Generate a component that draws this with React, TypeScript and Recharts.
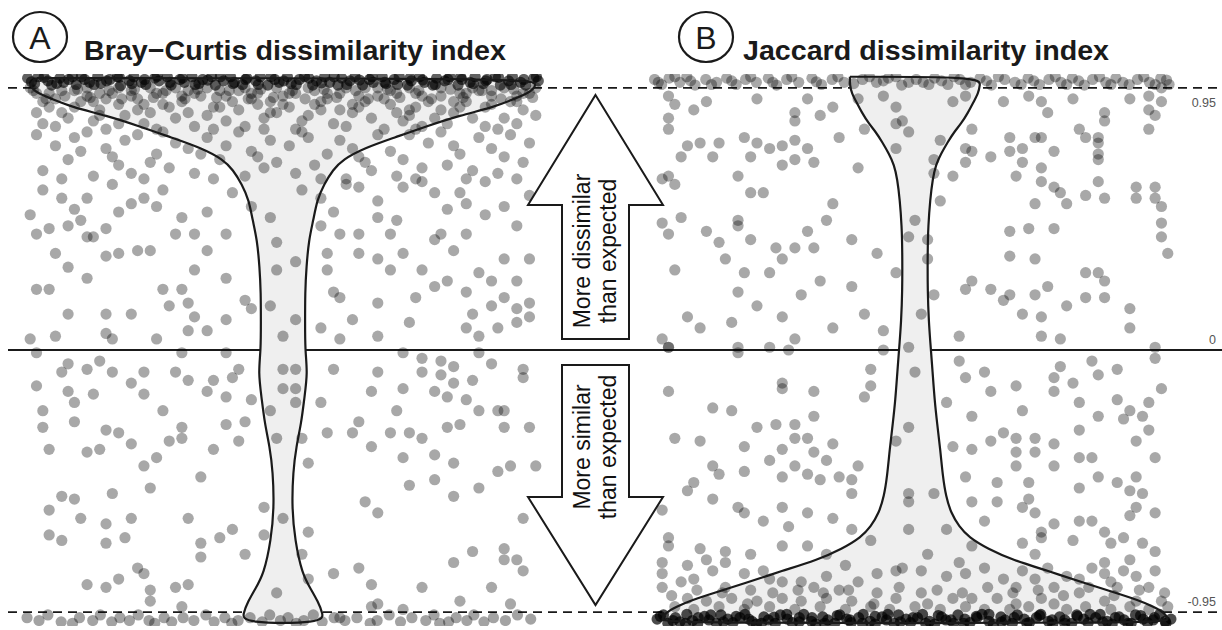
import React from 'react';
import { ComposedChart, Scatter, XAxis, YAxis, ReferenceLine } from 'recharts';

const W = 1222;
const H = 630;
const FONT = '"Liberation Sans", Arial, Helvetica, sans-serif';

// panel positions on the x axis: 1 = Bray–Curtis, 2 = Jaccard
const panels = ['Bray−Curtis dissimilarity index', 'Jaccard dissimilarity index'];
const yTicks = [0.95, 0, -0.95];

// observations as [jitter, standardized index]
const brayNearTop: [number, number][] = [
  [-.404,.985],[-.393,.965],[-.387,.99],[-.372,.975],[-.366,.96],[-.353,.985],[-.347,.97],[-.333,.99],[-.327,.962],[-.314,.98],
  [-.306,.97],[-.293,.992],[-.288,.966],[-.274,.98],[-.262,.99],[-.257,.958],[-.243,.976],[-.236,.99],[-.224,.97],[-.217,.962],
  [-.203,.985],[-.196,.975],[-.183,.99],[-.177,.96],[-.163,.98],[-.156,.97],[-.144,.99],[-.133,.965],[-.127,.98],[-.113,.99],
  [-.107,.96],[-.094,.975],[-.083,.99],[-.077,.97],[-.064,.962],[-.057,.985],[-.043,.975],[-.036,.99],[-.024,.96],[-.013,.98],
  [-.006,.97],[.007,.99],[.013,.965],[.026,.98],[.034,.99],[.047,.96],[.053,.975],[.066,.99],[.074,.97],[.087,.96],
  [.093,.985],[.106,.975],[.114,.99],[.126,.96],[.137,.98],[.143,.97],[.157,.99],[.163,.965],[.176,.98],[.184,.99],
  [.197,.96],[.203,.975],[.216,.99],[.224,.97],[.237,.96],[.243,.985],[.256,.975],[.264,.99],[.277,.96],[.283,.98],
  [.296,.97],[.304,.99],[.317,.965],[.323,.98],[.336,.99],[.344,.96],[.357,.975],[.363,.99],[.376,.97],[.384,.96],
  [.397,.985],[.404,.975],
  [-.398,.972],[-.378,.988],[-.358,.966],[-.339,.98],[-.319,.99],[-.299,.962],[-.279,.975],[-.259,.988],[-.239,.965],[-.219,.98],
  [-.199,.992],[-.179,.97],[-.159,.985],[-.139,.962],[-.119,.978],[-.099,.99],[-.079,.965],[-.059,.98],[-.039,.962],[-.019,.99],
  [.001,.975],[.021,.962],[.041,.985],[.061,.968],[.081,.99],[.101,.962],[.121,.978],[.141,.99],[.161,.97],[.181,.962],
  [.201,.985],[.221,.978],[.241,.962],[.261,.98],[.281,.99],[.301,.965],[.321,.975],[.341,.988],[.361,.962],[.381,.98],
  [.401,.99],
];

const brayPoints: [number, number][] = [
  // 0.80 - 0.95
  [-.39,.93],[-.37,.88],[-.36,.91],[-.34,.84],[-.38,.82],[-.33,.94],[-.35,.86],[-.32,.90],[-.39,.86],[-.36,.81],
  [-.31,.92],[-.29,.87],[-.27,.93],[-.30,.83],[-.26,.89],[-.25,.85],[-.28,.80],[-.24,.94],[-.30,.90],[-.26,.82],
  [-.23,.91],[-.21,.86],[-.19,.93],[-.22,.82],[-.18,.88],[-.17,.84],[-.20,.80],[-.16,.92],[-.23,.87],[-.19,.89],
  [-.15,.86],[-.13,.92],[-.11,.88],[-.14,.81],[-.10,.94],[-.09,.83],[-.12,.85],[-.08,.90],[-.15,.94],[-.11,.80],
  [-.07,.87],[-.05,.93],[-.03,.84],[-.06,.81],[-.02,.90],[-.01,.86],[-.04,.89],[-.07,.94],[-.03,.80],[.00,.92],
  [.01,.88],[.03,.83],[.05,.94],[.02,.80],[.06,.87],[.07,.91],[.04,.85],[.08,.82],[.01,.93],[.05,.89],
  [.09,.93],[.11,.86],[.13,.90],[.10,.81],[.14,.84],[.15,.92],[.12,.88],[.16,.80],[.09,.87],[.13,.95],
  [.17,.89],[.19,.83],[.21,.93],[.18,.86],[.22,.81],[.23,.90],[.20,.87],[.24,.84],[.17,.94],[.21,.80],
  [.25,.92],[.27,.86],[.29,.90],[.26,.82],[.30,.84],[.31,.94],[.28,.88],[.32,.81],[.25,.87],[.29,.93],
  [.33,.89],[.35,.84],[.37,.92],[.34,.80],[.38,.87],[.39,.93],[.36,.90],[.40,.85],[.33,.94],[.37,.82],
  [-.40,.95],[-.37,.93],[-.35,.94],[-.31,.95],[-.29,.93],[-.26,.95],[-.24,.92],[-.21,.95],[-.20,.93],[-.17,.95],
  [-.14,.93],[-.12,.95],[-.09,.92],[-.06,.95],[-.04,.93],[-.01,.95],[.02,.93],[.04,.95],[.07,.93],[.10,.95],
  [.12,.92],[.15,.95],[.18,.93],[.20,.95],[.22,.92],[.25,.95],[.28,.93],[.30,.95],[.33,.92],[.35,.95],
  [.38,.93],[.40,.95],[-.38,.90],[-.33,.88],[-.28,.91],[-.22,.89],[-.16,.90],[-.10,.88],[-.05,.91],[.00,.89],
  [.06,.90],[.11,.89],[.16,.91],[.21,.88],[.27,.90],[.32,.88],[.37,.90],[-.02,.86],[.20,.85],[-.29,.85],
  [-.395,.94],[-.375,.91],[-.345,.92],[-.325,.945],[-.305,.915],[-.275,.94],[-.255,.91],[-.235,.945],[-.205,.915],[-.185,.94],
  [-.155,.91],[-.135,.945],[-.105,.915],[-.085,.94],[-.055,.91],[-.035,.945],[-.015,.915],[.015,.94],[.035,.91],[.065,.945],
  [.085,.915],[.115,.94],[.135,.91],[.165,.945],[.185,.915],[.215,.94],[.235,.91],[.265,.945],[.285,.915],[.315,.94],
  [.345,.91],[.365,.945],[.395,.915],
  // 0.62 - 0.80
  [-.39,.78],[-.36,.74],[-.34,.69],[-.38,.65],[-.33,.77],[-.35,.62],[-.32,.72],
  [-.31,.79],[-.28,.73],[-.26,.67],[-.30,.63],[-.25,.76],[-.27,.70],[-.24,.64],
  [-.23,.78],[-.20,.71],[-.18,.66],[-.22,.62],[-.17,.75],[-.21,.68],[-.19,.79],
  [-.15,.73],[-.12,.77],[-.10,.69],[-.14,.64],[-.09,.74],[-.11,.62],[-.13,.71],
  [-.07,.79],[-.05,.72],[-.03,.66],[-.06,.63],[-.02,.76],[-.04,.70],[-.01,.68],
  [.01,.74],[.03,.79],[.05,.67],[.02,.64],[.07,.71],[.04,.77],[.06,.62],
  [.09,.76],[.12,.70],[.14,.65],[.10,.62],[.15,.78],[.11,.73],[.13,.68],
  [.17,.72],[.20,.78],[.22,.66],[.18,.63],[.23,.75],[.19,.69],[.21,.62],
  [.25,.79],[.28,.71],[.30,.65],[.26,.67],[.31,.77],[.27,.74],[.29,.62],
  [.33,.73],[.36,.78],[.38,.68],[.34,.64],[.39,.75],[.35,.70],[.37,.62],
  // 0 - 0.62
  [-.40,.49],[-.39,.42],[-.37,.44],[-.34,.45],[-.32,.47],[-.31,.41],[-.30,.41],[-.28,.44],[-.26,.50],[-.35,.55],
  [-.31,.55],[-.36,.35],[-.34,.30],[-.31,.26],[-.28,.34],[-.26,.35],[-.23,.36],[-.21,.36],[-.39,.22],[-.37,.22],
  [-.34,.13],[-.28,.13],[-.24,.13],[-.19,.22],[-.16,.22],[-.18,.16],[-.15,.17],[-.40,.04],[-.36,.05],[-.28,.06],
  [-.27,.04],[-.20,.04],[-.15,.07],[-.12,.07],[-.14,.12],[-.09,.26],[-.14,.29],[-.12,.36],[-.14,.42],[-.17,.42],
  [-.20,.52],[-.22,.55],[-.16,.48],[-.12,.50],[-.09,.42],[-.09,.11],[-.06,.18],[-.05,.15],
  [-.02,.48],[-.01,.39],[-.01,.29],[.02,.32],[.00,.05],[.02,.11],[-.02,.16],
  [.06,.45],[.08,.50],[.09,.42],[.12,.42],[.15,.48],[.18,.47],[.17,.42],[.07,.35],[.12,.35],[.15,.33],
  [.07,.29],[.17,.29],[.19,.35],[.22,.29],[.24,.40],[.25,.42],[.27,.36],[.29,.42],[.26,.25],[.24,.23],
  [.31,.28],[.33,.25],[.35,.33],[.37,.25],[.37,.45],[.39,.33],[.08,.21],[.09,.19],[.15,.17],[.21,.19],
  [.11,.11],[.20,.10],[.06,.08],[.09,.04],[.15,.05],[.29,.08],[.31,.05],[.33,.16],[.37,.15],[.39,.17],
  [.34,.08],[.37,.10],[.39,.12],[.29,.21],[.30,.13],[.35,.19],
  [.12,.59],[.15,.54],[.22,.61],[.24,.57],[.28,.57],[.29,.53],[.32,.61],[.35,.52],[.19,.59],
  [-.38,.58],[-.27,.60],[-.24,.53],[-.19,.58],[-.08,.57],[-.05,.52],[.03,.58],[.06,.55],[.26,.51],[.32,.49],
  [.39,.56],[.10,.60],[-.33,.51],
  // below 0
  [-.39,-.01],[-.34,-.05],[-.31,-.07],[-.29,-.04],[-.35,-.08],[-.27,-.08],[-.22,-.08],[-.17,-.08],[-.15,-.11],[-.11,-.11],
  [-.08,-.10],[-.07,-.07],[-.09,-.01],[-.16,-.01],[-.39,-.13],[-.34,-.15],[-.30,-.16],[-.24,-.12],[-.22,-.16],[-.12,-.15],
  [-.09,-.17],[-.05,-.18],[-.38,-.22],[-.33,-.19],[-.33,-.26],[-.38,-.28],[-.28,-.29],[-.26,-.30],[-.19,-.22],[-.16,-.28],
  [-.16,-.32],[-.18,-.33],[-.24,-.34],[-.37,-.36],[-.31,-.37],[-.29,-.36],[-.09,-.27],[-.06,-.26],[-.07,-.33],[-.11,-.36],
  [-.22,-.42],[-.20,-.39],[-.13,-.46],[-.21,-.50],[-.27,-.52],[-.37,-.58],[-.35,-.53],[-.33,-.54],[-.32,-.61],[-.28,-.63],
  [-.24,-.61],[-.15,-.61],[-.37,-.67],[-.35,-.69],[-.28,-.70],[-.25,-.68],[-.13,-.70],[-.10,-.68],[-.08,-.65],[-.13,-.75],
  [-.06,-.74],[-.23,-.79],[-.22,-.81],[-.31,-.85],[-.28,-.86],[-.26,-.83],[-.21,-.87],[-.17,-.86],[-.15,-.85],[-.21,-.91],
  [-.16,-.93],
  [.00,-.07],[.02,-.07],[.00,-.14],[.02,-.14],[.02,-.19],[-.02,-.22],[-.01,-.32],[.03,-.32],[.04,-.41],[-.03,-.57],
  [.00,-.61],[.04,-.66],[.03,-.74],[.04,-.83],[-.01,-.88],[-.03,-.67],
  [.06,-.19],[.07,-.30],[.08,-.07],[.11,-.30],[.12,-.26],[.15,-.08],[.14,-.15],[.19,-.14],[.18,-.22],[.17,-.30],
  [.20,-.30],[.22,-.32],[.14,-.35],[.22,-.03],[.25,-.04],[.19,-.01],[.27,-.06],[.31,-.01],[.22,-.08],[.25,-.09],
  [.27,-.12],[.30,-.11],[.33,-.05],[.38,-.07],[.38,-.10],[.24,-.15],[.26,-.17],[.29,-.18],[.31,-.22],[.34,-.22],
  [.35,-.22],[.26,-.28],[.28,-.27],[.35,-.28],[.39,-.28],[.24,-.38],[.27,-.41],[.19,-.39],[.20,-.49],[.24,-.47],
  [.31,-.50],[.27,-.53],[.34,-.44],[.36,-.42],[.40,-.42],[.13,-.55],[.15,-.59],[.38,-.61],[.30,-.73],[.27,-.77],
  [.35,-.72],[.35,-.76],[.37,-.76],[.38,-.80],[.08,-.81],[.12,-.79],[.14,-.85],[.22,-.86],[.33,-.86],[.28,-.91],
  [.36,-.92],[.15,-.92],[.19,-.94],[.14,-.93],[.09,-.97],
];

const brayNearBottom: [number, number][] = [
  [-.405,-.97],[-.386,-.98],[-.372,-.96],[-.351,-.985],[-.333,-.99],[-.322,-.97],[-.301,-.98],[-.289,-.96],[-.271,-.985],[-.258,-.97],
  [-.243,-.98],[-.229,-.96],[-.212,-.98],[-.203,-.99],[-.188,-.97],[-.176,-.985],[-.158,-.97],[-.141,-.98],[-.122,-.96],[-.109,-.985],
  [-.092,-.97],[-.081,-.99],[-.071,-.98],[-.052,-.97],[-.033,-.985],[-.021,-.96],[-.004,-.98],[.008,-.97],[.021,-.99],[.033,-.98],
  [.048,-.96],[.062,-.985],[.081,-.97],[.098,-.98],[.117,-.97],[.138,-.99],[.149,-.98],[.168,-.96],[.186,-.985],[.204,-.97],
  [.226,-.98],[.239,-.96],[.248,-.99],[.262,-.985],[.274,-.97],[.291,-.98],[.302,-.96],[.318,-.985],[.333,-.97],[.352,-.98],
  [.371,-.96],[.392,-.975],
];

const jaccardNearTop: [number, number][] = [
  [-.412,.98],[-.401,.962],[-.389,.985],[-.372,.97],[-.361,.99],[-.348,.96],[-.331,.98],[-.314,.97],[-.298,.985],[-.283,.962],
  [-.268,.98],[-.251,.97],[-.232,.985],[-.219,.96],[-.203,.98],[-.184,.97],[-.163,.985],[-.148,.962],[-.131,.98],[-.112,.97],
  [-.083,.98],[-.061,.97],[-.042,.985],[-.021,.96],[.002,.98],[.013,.97],[.031,.985],[.052,.962],[.071,.98],[.088,.97],
  [.103,.985],[.121,.96],[.142,.98],[.158,.97],[.179,.985],[.197,.962],[.212,.98],[.231,.97],[.249,.985],[.268,.96],
  [.281,.98],[.302,.97],[.318,.985],[.339,.962],[.352,.98],[.371,.97],[.389,.985],[.402,.962],
  [-.406,.97],[-.38,.99],[-.355,.975],[-.322,.962],[-.29,.975],[-.26,.99],[-.225,.97],[-.195,.99],[-.156,.972],[-.122,.99],
  [-.097,.965],[-.072,.99],[-.05,.975],[-.03,.99],[-.01,.97],[.022,.962],[.042,.975],[.062,.99],[.08,.962],[.113,.975],
  [.132,.99],[.168,.962],[.188,.975],[.222,.99],[.24,.962],[.259,.975],[.292,.99],[.31,.962],[.329,.97],[.362,.99],
  [.38,.962],[.398,.978],
];

const jaccardPoints: [number, number][] = [
  // above 0
  [-.39,.92],[-.38,.89],[-.35,.87],[-.33,.90],[-.39,.84],[-.39,.80],[-.37,.70],[-.36,.74],[-.34,.75],[-.31,.75],
  [-.32,.70],[-.28,.63],[-.27,.77],[-.25,.75],[-.23,.73],[-.21,.74],[-.26,.70],[-.19,.76],[-.17,.73],[-.16,.68],
  [-.21,.67],[-.19,.69],[-.25,.91],[-.19,.86],[-.19,.83],[-.15,.85],[-.13,.88],[-.17,.91],[-.12,.77],[-.09,.66],
  [-.40,.62],[-.39,.63],[-.38,.60],[-.26,.57],[-.24,.57],[-.37,.48],[-.40,.46],[-.39,.42],[-.33,.43],[-.31,.39],
  [-.28,.47],[-.28,.45],[-.26,.40],[-.22,.37],[-.19,.37],[-.16,.37],[-.21,.33],[-.17,.43],[-.14,.47],[-.13,.53],
  [-.10,.40],[-.30,.33],[-.38,.29],[-.27,.28],[-.23,.28],[-.28,.21],[-.25,.16],[-.18,.20],[-.15,.25],[-.10,.23],
  [-.36,.12],[-.34,.08],[-.29,.10],[-.21,.12],[-.19,.04],[-.13,.08],[-.08,.13],[-.05,.07],[-.40,.04],[-.39,.01],
  [-.28,.01],[-.23,.01],[-.06,.35],[-.03,.28],
  [-.09,.91],[-.05,.92],[-.03,.88],[-.02,.83],[-.03,.82],[-.01,.79],[-.03,.73],[-.08,.80],[.00,.47],[-.01,.41],
  [.02,.40],[.02,.33],[.01,.13],[-.01,.01],[.03,.20],[.03,.69],[.04,.76],[.03,.64],[.04,.54],[.06,.63],
  [.08,.73],[.09,.80],[.09,.72],[.08,.68],[.06,.90],[.08,.92],[.07,.05],
  [.14,.90],[.21,.86],[.18,.92],[.20,.90],[.25,.91],[.26,.80],[.27,.77],[.30,.83],[.29,.75],[.34,.91],
  [.37,.92],[.37,.80],[.39,.90],[.38,.85],[.15,.77],[.19,.77],[.20,.77],[.22,.72],[.15,.72],[.17,.73],
  [.12,.70],[.17,.68],[.20,.66],[.29,.69],[.29,.61],[.16,.63],[.20,.61],[.22,.59],[.23,.57],[.24,.53],
  [.19,.53],[.27,.56],[.30,.55],[.35,.55],[.38,.59],[.38,.55],[.39,.52],[.15,.43],[.18,.44],[.22,.44],
  [.15,.34],[.19,.33],[.39,.41],[.40,.35],[.27,.28],[.29,.28],[.08,.22],[.09,.25],[.12,.22],[.14,.18],
  [.15,.20],[.19,.20],[.21,.23],[.27,.19],[.30,.19],[.24,.16],[.17,.13],[.20,.12],[.20,.05],[.23,.04],
  [.34,.08],[.38,.01],[.30,.86],[.37,.87],[.39,.95],[.29,.77],[.29,.71],[.35,.59],[.39,.46],[.30,.25],
  [.34,.15],
  // below 0
  [-.39,.01],[-.28,-.01],[-.20,.00],[-.05,.00],[.07,-.04],[.11,-.08],[.23,-.06],[.28,-.04],[.32,-.07],[.38,-.03],
  [.22,-.10],[.25,-.12],[.29,-.09],[.39,-.14],[.16,-.13],[.12,-.15],[.08,-.10],[-.39,-.15],[-.21,-.12],[-.21,-.14],
  [-.16,-.15],[-.07,-.07],[-.07,-.13],[-.08,-.17],[.00,-.08],[.05,-.19],[.22,-.15],[.26,-.19],[.32,-.18],[.34,-.22],
  [.37,-.19],[.17,-.22],[.09,-.24],[-.32,-.21],[-.29,-.22],
  [-.38,-.32],[-.34,-.33],[-.25,-.28],[-.22,-.27],[-.19,-.27],[-.16,-.24],[-.19,-.32],[-.17,-.32],[-.27,-.35],[-.21,-.36],
  [-.13,-.34],[-.16,-.37],[-.23,-.40],[-.19,-.42],[-.32,-.42],[-.31,-.45],[-.27,-.44],[-.14,-.40],[-.09,-.42],[-.21,-.46],
  [-.17,-.45],[-.15,-.47],[-.12,-.46],[-.10,-.47],[-.35,-.48],[-.40,-.58],[-.36,-.51],[-.03,-.33],[-.01,-.28],[.06,-.35],
  [.09,-.36],[.12,-.33],[.16,-.32],[.19,-.32],[.22,-.34],[.26,-.29],[.26,-.39],[.28,-.39],[.22,-.42],[.19,-.37],
  [.16,-.37],[.16,-.42],[.38,-.39],[.35,-.46],[.32,-.48],[.34,-.51],[.36,-.52],[.29,-.46],[.26,-.50],[.18,-.48],
  [.13,-.48],[.08,-.46],[.14,-.30],[.29,-.24],[.33,-.25],[.36,-.24],[.37,-.29],[.35,-.33],
  [-.32,-.54],[-.28,-.57],[-.27,-.59],[-.24,-.62],[-.21,-.57],[-.20,-.64],[-.17,-.59],[-.13,-.61],[-.10,-.52],[-.10,-.65],
  [-.01,-.52],[.03,-.52],[-.01,-.55],[-.01,-.65],[.05,-.65],[.09,-.55],[.11,-.62],[.13,-.55],[.17,-.57],[.18,-.54],
  [.19,-.59],[.20,-.66],[.22,-.63],[.26,-.62],[.28,-.62],[.30,-.66],[.34,-.60],[.35,-.57],[.38,-.59],[.33,-.68],
  [.36,-.70],[.25,-.69],[.31,-.70],[.38,-.73],[.17,-.70],[.19,-.74],[.20,-.68],[.09,-.71],[-.39,-.68],[-.39,-.71],
  [-.34,-.72],[-.30,-.73],[-.26,-.74],[-.21,-.71],[-.17,-.71],[-.14,-.74],[-.07,-.69],[.02,-.74],
  [-.40,-.77],[-.36,-.78],[-.32,-.80],[-.30,-.77],[-.27,-.81],[-.24,-.80],[-.21,-.84],[-.18,-.84],[-.16,-.86],[-.14,-.82],
  [-.12,-.87],[-.09,-.84],[-.06,-.81],[-.03,-.80],[-.02,-.79],[.01,-.80],[.05,-.82],[.08,-.81],[.11,-.79],[.14,-.83],
  [.16,-.86],[.19,-.83],[.22,-.86],[.24,-.82],[.28,-.79],[.30,-.81],[.33,-.80],[.35,-.82],[.38,-.80],[.34,-.76],
  [.30,-.77],[.26,-.83],[.37,-.86],[.32,-.86],[.26,-.88],[.20,-.90],[.13,-.90],[.09,-.90],[.06,-.90],[.01,-.88],
  [-.03,-.90],[-.06,-.88],[-.10,-.91],[-.14,-.90],[-.18,-.91],[-.21,-.90],[-.25,-.91],[-.29,-.90],[-.33,-.91],[-.36,-.90],
  [-.40,-.86],[-.40,-.81],[-.35,-.83],[-.30,-.86],[-.26,-.87],[.39,-.91],[.35,-.91],[.30,-.91],[.22,-.92],[.16,-.92],
  [.02,-.92],
  [-.38,-.93],[-.35,-.94],[-.31,-.93],[-.27,-.94],[-.23,-.93],[-.19,-.94],[-.15,-.93],[-.11,-.94],[-.07,-.93],[-.04,-.94],
  [.00,-.93],[.04,-.94],[.08,-.93],[.11,-.94],[.15,-.94],[.18,-.93],[.24,-.94],[.27,-.93],[.31,-.94],[.34,-.93],
  [.37,-.94],[.40,-.93],
  [-.385,-.89],[-.345,-.87],[-.305,-.88],[-.265,-.92],[-.225,-.88],[-.185,-.87],[-.145,-.88],[-.105,-.87],[-.065,-.92],[-.025,-.86],
  [.035,-.87],[.075,-.88],[.115,-.86],[.155,-.88],[.195,-.87],[.235,-.89],[.275,-.86],[.315,-.89],[.355,-.87],[.395,-.88],
  [-.37,-.84],[-.23,-.83],[-.11,-.78],[.07,-.77],[.21,-.79],[.31,-.84],[-.33,-.76],[.17,-.80],
];

const jaccardNearBottom: [number, number][] = [
  [-.408,-.975],[-.398,-.96],[-.391,-.99],[-.379,-.97],[-.372,-.985],[-.361,-.958],[-.352,-.98],[-.344,-.993],[-.333,-.965],[-.326,-.978],
  [-.314,-.99],[-.307,-.96],[-.296,-.975],[-.288,-.988],[-.277,-.97],[-.269,-.958],[-.258,-.983],[-.251,-.993],[-.239,-.967],[-.232,-.978],
  [-.221,-.99],[-.213,-.96],[-.202,-.975],[-.194,-.988],[-.183,-.97],[-.176,-.958],[-.164,-.983],[-.157,-.993],[-.146,-.967],[-.138,-.978],
  [-.127,-.99],[-.119,-.96],[-.108,-.975],[-.101,-.988],[-.089,-.97],[-.082,-.958],[-.071,-.983],[-.063,-.993],[-.052,-.967],[-.045,-.978],
  [-.033,-.99],[-.026,-.96],[-.014,-.975],[-.007,-.988],[.004,-.97],[.012,-.958],[.023,-.983],[.031,-.993],[.042,-.967],[.049,-.978],
  [.061,-.99],[.068,-.96],[.079,-.975],[.087,-.988],[.098,-.97],[.106,-.958],[.117,-.983],[.124,-.993],[.136,-.967],[.143,-.978],
  [.154,-.99],[.162,-.96],[.173,-.975],[.181,-.988],[.192,-.97],[.199,-.958],[.211,-.983],[.218,-.993],[.229,-.967],[.237,-.978],
  [.248,-.99],[.256,-.96],[.267,-.975],[.274,-.988],[.286,-.97],[.293,-.958],[.304,-.983],[.312,-.993],[.323,-.967],[.331,-.978],
  [.342,-.99],[.349,-.96],[.361,-.975],[.368,-.988],[.379,-.97],[.387,-.958],[.396,-.983],[.405,-.975],
  [-.403,-.965],[-.383,-.98],[-.363,-.99],[-.343,-.97],[-.323,-.96],[-.303,-.985],[-.283,-.965],[-.263,-.975],[-.243,-.99],[-.223,-.968],
  [-.203,-.958],[-.183,-.985],[-.163,-.97],[-.143,-.99],[-.123,-.962],[-.103,-.978],[-.083,-.99],[-.063,-.965],[-.043,-.958],[-.023,-.985],
  [-.003,-.97],[.017,-.99],[.037,-.962],[.057,-.978],[.077,-.99],[.097,-.965],[.117,-.958],[.137,-.985],[.157,-.97],[.177,-.99],
  [.197,-.962],[.217,-.978],[.237,-.99],[.257,-.965],[.277,-.958],[.297,-.985],[.317,-.97],[.337,-.99],[.357,-.962],[.377,-.978],
  [.397,-.99],
];

// violin density profiles as [index value, half width]
const brayViolin: [number, number][] = [
  [.985,.39],[.965,.40],[.95,.398],[.93,.388],[.91,.366],[.88,.334],[.85,.28],[.81,.226],[.77,.177],[.73,.127],
  [.69,.095],[.653,.079],[.60,.065],[.544,.054],[.47,.048],[.40,.041],[.30,.037],[.207,.035],[.10,.035],[0,.035],
  [-.083,.039],[-.17,.034],[-.265,.029],[-.35,.021],[-.44,.016],[-.57,.014],[-.69,.019],[-.81,.030],[-.87,.045],[-.91,.055],
  [-.954,.063],[-.99,.064],
];

const jaccardViolin: [number, number][] = [
  [.99,.103],[.96,.103],[.93,.10],[.90,.093],[.86,.084],[.82,.073],[.79,.062],[.754,.052],[.71,.041],[.671,.033],
  [.62,.028],[.544,.024],[.45,.021],[.363,.020],[.207,.020],[.10,.022],[.036,.024],[-.083,.028],[-.18,.031],[-.265,.035],
  [-.36,.040],[-.457,.044],[-.53,.049],[-.591,.057],[-.64,.07],[-.678,.085],[-.72,.115],[-.761,.155],[-.80,.21],[-.845,.269],
  [-.88,.318],[-.906,.353],[-.93,.378],[-.954,.396],[-.975,.40],[-.99,.40],
];

const place = (pts: [number, number][], center: number) =>
  pts.map(([j, v]) => ({ x: center + j, y: v }));

const outline = (profile: [number, number][], center: number) => {
  const left = profile.map(([v, h]) => ({ x: center - h, y: v }));
  const right = [...profile].reverse().map(([v, h]) => ({ x: center + h, y: v }));
  return [...left, ...right, left[0]];
};

const dot = (opacity: number) => (p: any) =>
  <circle cx={p.cx} cy={p.cy} r={5.6} fill="#000" fillOpacity={opacity} />;
const noDot = () => <g />;

// value labels sit under the top dashed line and above the other two
const tickLabel = (t: number) => (p: any) => {
  const vb = p.viewBox || {};
  const right = vb.width != null ? vb.x + vb.width : W;
  const y = (vb.y ?? 0) + (t > 0 ? 19 : -6);
  return (
    <text x={right - 6} y={y} textAnchor="end" fontSize={12.5} fill="#555" fontFamily={FONT}>
      {String(t)}
    </text>
  );
};

function Arrow({ up }: { up: boolean }) {
  const pts = up
    ? '595.5,95 663,205 629,205 629,339 562,339 562,205 528,205'
    : '562,365 629,365 629,497 663,497 595.5,605 528,497 562,497';
  const cy = up ? 251 : 447;
  const lines = up ? ['More dissimilar', 'than expected'] : ['More similar', 'than expected'];
  return (
    <g>
      <polygon points={pts} fill="#fff" stroke="#1a1a1a" strokeWidth={2} strokeLinejoin="miter" />
      {lines.map((t, i) => (
        <text key={t} transform={`translate(${590 + i * 26},${cy}) rotate(-90)`} textAnchor="middle"
          fontSize={23} fill="#111">{t}</text>
      ))}
    </g>
  );
}

export default function App() {
  return (
    <div style={{ position: 'absolute', left: 0, top: 0, width: W, height: H, background: '#fff', fontFamily: FONT }}>
      <ComposedChart width={W} height={H} margin={{ top: 74, right: 0, bottom: 4, left: 8 }}>
        <XAxis type="number" dataKey="x" domain={[0.5649, 2.4858]} allowDataOverflow hide />
        <YAxis type="number" dataKey="y" domain={[-1, 1]} allowDataOverflow hide />
        <Scatter data={outline(brayViolin, 1)} shape={noDot} line={{ stroke: 'none', fill: '#efefef' }}
          lineJointType="basis" isAnimationActive={false} />
        <Scatter data={outline(jaccardViolin, 2)} shape={noDot} line={{ stroke: 'none', fill: '#efefef' }}
          lineJointType="basis" isAnimationActive={false} />
        {yTicks.map((t) => (
          <ReferenceLine key={t} y={t} stroke="#1a1a1a" strokeWidth={t === 0 ? 2.2 : 1.8}
            strokeDasharray={t === 0 ? undefined : '9 6'} label={tickLabel(t)} />
        ))}
        <Scatter data={place(brayPoints, 1)} shape={dot(0.34)} isAnimationActive={false} />
        <Scatter data={place(brayNearBottom, 1)} shape={dot(0.36)} isAnimationActive={false} />
        <Scatter data={place(brayNearTop, 1)} shape={dot(0.62)} isAnimationActive={false} />
        <Scatter data={place(jaccardPoints, 2)} shape={dot(0.34)} isAnimationActive={false} />
        <Scatter data={place(jaccardNearTop, 2)} shape={dot(0.34)} isAnimationActive={false} />
        <Scatter data={place(jaccardNearBottom, 2)} shape={dot(0.7)} isAnimationActive={false} />
        <Scatter data={outline(brayViolin, 1)} shape={noDot} line={{ stroke: '#1a1a1a', strokeWidth: 2.2, fill: 'none' }}
          lineJointType="basis" isAnimationActive={false} />
        <Scatter data={outline(jaccardViolin, 2)} shape={noDot} line={{ stroke: '#1a1a1a', strokeWidth: 2.2, fill: 'none' }}
          lineJointType="basis" isAnimationActive={false} />
      </ComposedChart>
      <svg width={W} height={H} style={{ position: 'absolute', left: 0, top: 0, pointerEvents: 'none' }}>
        <ellipse cx={40} cy={37} rx={27} ry={25} fill="none" stroke="#1a1a1a" strokeWidth={2.2} />
        <text x={40} y={48.5} textAnchor="middle" fontSize={32} fill="#1a1a1a">A</text>
        <text x={84} y={60} fontSize={28} fontWeight="bold" fill="#1a1a1a" textLength={422}
          lengthAdjust="spacingAndGlyphs">{panels[0]}</text>
        <ellipse cx={706} cy={37} rx={27} ry={25} fill="none" stroke="#1a1a1a" strokeWidth={2.2} />
        <text x={706} y={48.5} textAnchor="middle" fontSize={32} fill="#1a1a1a">B</text>
        <text x={743} y={60} fontSize={28} fontWeight="bold" fill="#1a1a1a" textLength={366}
          lengthAdjust="spacingAndGlyphs">{panels[1]}</text>
        <Arrow up />
        <Arrow up={false} />
      </svg>
    </div>
  );
}
